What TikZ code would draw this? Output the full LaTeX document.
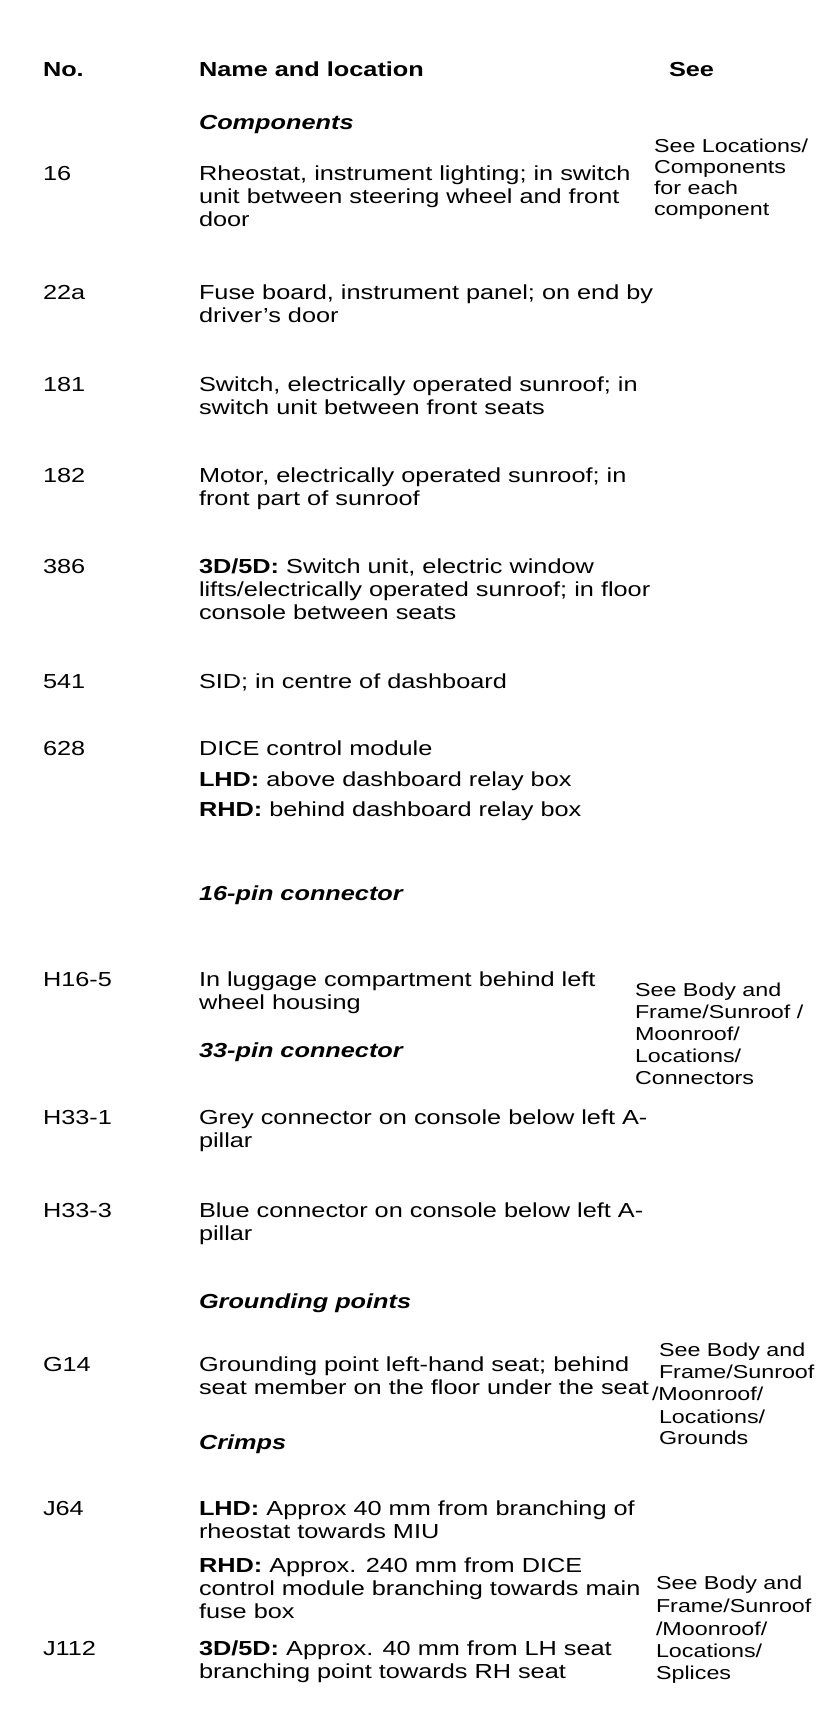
\documentclass[tikz,border=0pt]{standalone}
\usepackage{fontspec}
\setmainfont{Liberation Sans}[FakeStretch=1.246]
\tikzset{
  txt/.style={anchor=base west, inner sep=0pt, outer sep=0pt, font=\fontsize{20.3}{23}\selectfont},
  hdr/.style={txt, font=\fontsize{20.3}{23}\selectfont\bfseries},
  sec/.style={txt, font=\fontsize{20.3}{23}\selectfont\bfseries\itshape},
  see/.style={txt, font=\fontsize{18.7}{21}\selectfont},
}
\newcommand\rowtext[4][txt]{\node[#1] (#2) at (#3) {#4};}
\begin{document}
\begin{tikzpicture}[x=1pt,y=-1pt]
\fill[white] (0,0) rectangle (816,1734);
\useasboundingbox (0,0) rectangle (816,1734);
% header
\rowtext[hdr]{hno}{43,77}{No.}
\rowtext[hdr]{hname}{199,77}{Name and location}
\rowtext[hdr]{hsee}{669,77}{See}
% components
\rowtext[sec]{scomp}{199,129}{Components}
\rowtext[see]{sa1}{654,152}{See Locations/}
\rowtext[see]{sa2}{654,173}{Components}
\rowtext[see]{sa3}{654,194}{for each}
\rowtext[see]{sa4}{654,215}{component}
\rowtext{n16}{43,180}{16}
\rowtext{t16a}{199,180}{Rheostat, instrument lighting; in switch}
\rowtext{t16b}{199,203}{unit between steering wheel and front}
\rowtext{t16c}{199,226}{door}
\rowtext{n22}{43,299}{22a}
\rowtext{t22a}{199,299}{Fuse board, instrument panel; on end by}
\rowtext{t22b}{199,322}{driver's door}
\rowtext{n181}{43,391}{181}
\rowtext{t181a}{199,391}{Switch, electrically operated sunroof; in}
\rowtext{t181b}{199,414}{switch unit between front seats}
\rowtext{n182}{43,482}{182}
\rowtext{t182a}{199,482}{Motor, electrically operated sunroof; in}
\rowtext{t182b}{199,505}{front part of sunroof}
\rowtext{n386}{43,573}{386}
\rowtext{t386a}{199,573}{\textbf{3D/5D:} Switch unit, electric window}
\rowtext{t386b}{199,596}{lifts/electrically operated sunroof; in floor}
\rowtext{t386c}{199,619}{console between seats}
\rowtext{n541}{43,688}{541}
\rowtext{t541a}{199,688}{SID; in centre of dashboard}
\rowtext{n628}{43,755}{628}
\rowtext{t628a}{199,755}{DICE control module}
\rowtext{t628b}{199,786}{\textbf{LHD:} above dashboard relay box}
\rowtext{t628c}{199,816}{\textbf{RHD:} behind dashboard relay box}
% 16-pin
\rowtext[sec]{s16}{199,900}{16-pin connector}
\rowtext{nh165}{43,986}{H16-5}
\rowtext{th165a}{199,986}{In luggage compartment behind left}
\rowtext{th165b}{199,1009}{wheel housing}
\rowtext[see]{sb1}{635,996}{See Body and}
\rowtext[see]{sb2}{635,1018}{Frame/Sunroof /}
\rowtext[see]{sb3}{635,1040}{Moonroof/}
\rowtext[see]{sb4}{635,1062}{Locations/}
\rowtext[see]{sb5}{635,1084}{Connectors}
% 33-pin
\rowtext[sec]{s33}{199,1057}{33-pin connector}
\rowtext{nh331}{43,1124}{H33-1}
\rowtext{th331a}{199,1124}{Grey connector on console below left A-}
\rowtext{th331b}{199,1147}{pillar}
\rowtext{nh333}{43,1217}{H33-3}
\rowtext{th333a}{199,1217}{Blue connector on console below left A-}
\rowtext{th333b}{199,1240}{pillar}
% grounding
\rowtext[sec]{sgnd}{199,1308}{Grounding points}
\rowtext[see]{sc1}{659,1356}{See Body and}
\rowtext[see]{sc2}{659,1378}{Frame/Sunroof}
\rowtext[see]{sc3}{652,1400}{/Moonroof/}
\rowtext[see]{sc4}{659,1423}{Locations/}
\rowtext[see]{sc5}{659,1444}{Grounds}
\rowtext{ng14}{43,1371}{G14}
\rowtext{tg14a}{199,1371}{Grounding point left-hand seat; behind}
\rowtext{tg14b}{199,1394}{seat member on the floor under the seat}
% crimps
\rowtext[sec]{scrimp}{199,1449}{Crimps}
\rowtext{nj64}{43,1515}{J64}
\rowtext{tj64a}{199,1515}{\textbf{LHD:} Approx 40 mm from branching of}
\rowtext{tj64b}{199,1538}{rheostat towards MIU}
\rowtext{tj64c}{199,1572}{\textbf{RHD:} Approx. 240 mm from DICE}
\rowtext{tj64d}{199,1595}{control module branching towards main}
\rowtext{tj64e}{199,1618}{fuse box}
\rowtext{nj112}{43,1655}{J112}
\rowtext{tj112a}{199,1655}{\textbf{3D/5D:} Approx. 40 mm from LH seat}
\rowtext{tj112b}{199,1678}{branching point towards RH seat}
\rowtext[see]{sd1}{656,1589}{See Body and}
\rowtext[see]{sd2}{656,1612}{Frame/Sunroof}
\rowtext[see]{sd3}{656,1635}{/Moonroof/}
\rowtext[see]{sd4}{656,1657}{Locations/}
\rowtext[see]{sd5}{656,1679}{Splices}
\end{tikzpicture}
\end{document}
